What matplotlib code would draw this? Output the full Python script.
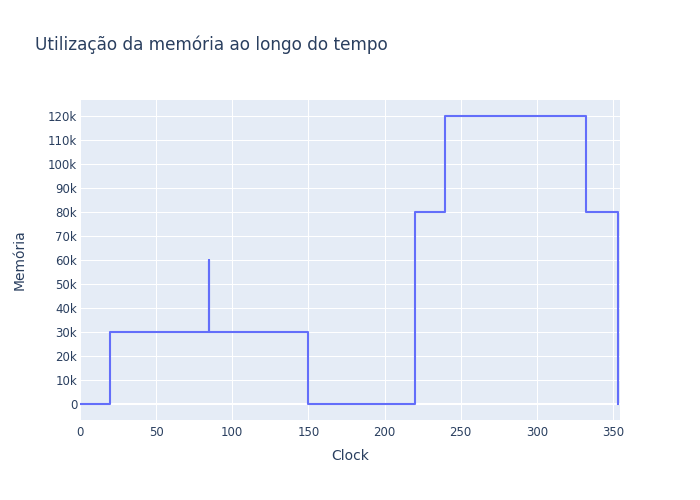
import matplotlib
matplotlib.use("Agg")
import matplotlib.pyplot as plt
from matplotlib.ticker import FixedLocator

clock = [0, 20, 85, 85, 150, 220, 240, 332, 353]
memoria = [0, 30000, 60000, 30000, 0, 80000, 120000, 80000, 0]
x_ticks = [0, 50, 100, 150, 200, 250, 300, 350]
y_ticks = [0, 10000, 20000, 30000, 40000, 50000, 60000, 70000, 80000,
           90000, 100000, 110000, 120000]
y_labels = ["0", "10k", "20k", "30k", "40k", "50k", "60k", "70k", "80k",
            "90k", "100k", "110k", "120k"]

plt.rcParams['font.family'] = ['DejaVu Sans']
TXT = "#2a3f5f"

fig = plt.figure(figsize=(7, 5), dpi=100)
ax = fig.add_axes([80/700, 80/500, 540/700, 320/500])
ax.set_facecolor("#E5ECF6")
for s in ax.spines.values():
    s.set_visible(False)

ax.set_xlim(0, 354.6)
ax.set_ylim(-6667, 126667)
ax.xaxis.set_major_locator(FixedLocator(x_ticks))
ax.set_yticks(y_ticks)
ax.set_yticklabels(y_labels)
ax.grid(True, color="white", linewidth=0.75)
ax.set_axisbelow(True)
ax.axhline(0, color="white", linewidth=1.5, zorder=1)
ax.tick_params(length=0, labelsize=8.5, labelcolor=TXT)
ax.tick_params(axis="y", pad=2)
ax.tick_params(axis="x", pad=4)

ax.plot(clock, memoria, drawstyle="steps-post", color="#636efa", linewidth=1.5, zorder=3)

fig.text(35/700, 1 - 45/500, "Utilização da memória ao longo do tempo",
         fontsize=12.2, color=TXT, ha="left", va="center")
fig.text(350/700, 1 - 456/500, "Clock", fontsize=10, color=TXT, ha="center", va="center")
fig.text(20/700, 1 - 260/500, "Memória", fontsize=10, color=TXT, ha="center", va="center",
         rotation=90)

fig.savefig("out.png", dpi=100, facecolor="white")
